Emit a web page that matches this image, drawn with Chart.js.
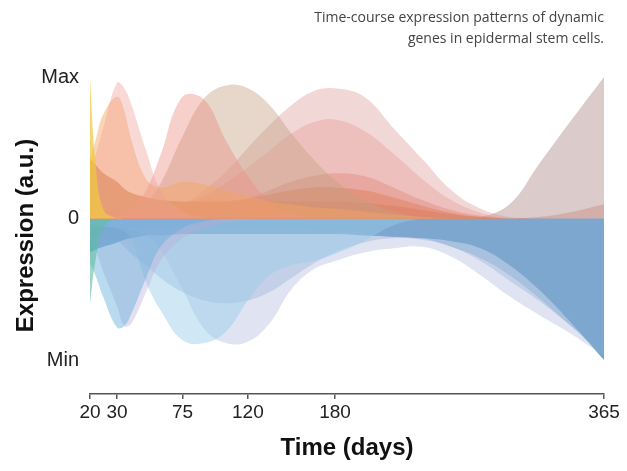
<!DOCTYPE html>
<html>
<head>
<meta charset="utf-8">
<script src="https://cdn.jsdelivr.net/npm/chart.js@4/dist/chart.umd.min.js"></script>
<style>
  html, body { margin: 0; padding: 0; background: #fff; }
  canvas { display: block; }
</style>
</head>
<body>
<canvas id="chart" width="627" height="471"></canvas>
<script>
// sampling days (x) and the axis ticks
const DAYS = [20, 22, 25, 30, 35, 40, 50, 60, 75, 90, 105, 120, 135, 150, 165, 180, 200, 220, 240, 260, 280, 300, 320, 340, 365];
const X_TICKS = [20, 30, 75, 120, 180, 365];
const Y_TICKS = [-1, 0, 1];
const Y_LABELS = ['Min', '0', 'Max'];

// up-regulated clusters (relative expression, 0..1)
const upDay20   = [0.98, 0.40, 0.06, 0, 0, 0, 0, 0, 0, 0, 0, 0, 0, 0, 0, 0, 0, 0, 0, 0, 0, 0, 0, 0, 0];
const upDay30   = [0.36, 0.45, 0.65, 0.96, 0.92, 0.80, 0.48, 0.20, 0.05, 0.01, 0, 0, 0, 0, 0, 0, 0, 0, 0, 0, 0, 0, 0, 0, 0];
const upDay30b  = [0.42, 0.55, 0.74, 0.86, 0.76, 0.55, 0.28, 0.22, 0.26, 0.24, 0.20, 0.16, 0.12, 0.10, 0.08, 0.07, 0.05, 0.03, 0.01, 0, 0, 0, 0, 0, 0];
const upDay75   = [0.03, 0.03, 0.03, 0.03, 0.04, 0.07, 0.20, 0.45, 0.86, 0.84, 0.55, 0.30, 0.12, 0.04, 0.01, 0, 0, 0, 0, 0, 0, 0, 0, 0, 0];
const upDay120  = [0.04, 0.04, 0.04, 0.05, 0.06, 0.08, 0.12, 0.25, 0.58, 0.85, 0.94, 0.92, 0.80, 0.60, 0.42, 0.27, 0.13, 0.05, 0.01, 0, 0, 0, 0, 0, 0];
const upDay180  = [0.02, 0.02, 0.02, 0.02, 0.02, 0.03, 0.04, 0.06, 0.10, 0.20, 0.33, 0.50, 0.66, 0.80, 0.90, 0.92, 0.86, 0.64, 0.42, 0.20, 0.07, 0.01, 0, 0, 0];
const upDay180b = [0.03, 0.03, 0.03, 0.03, 0.03, 0.04, 0.05, 0.06, 0.10, 0.16, 0.25, 0.36, 0.48, 0.60, 0.68, 0.70, 0.62, 0.46, 0.28, 0.13, 0.04, 0, 0, 0, 0];
const upDay180c = [0.02, 0.02, 0.02, 0.02, 0.02, 0.03, 0.04, 0.04, 0.05, 0.07, 0.10, 0.14, 0.20, 0.26, 0.30, 0.32, 0.30, 0.22, 0.13, 0.06, 0.02, 0, 0, 0, 0];
const upDay180d = [0.04, 0.04, 0.05, 0.05, 0.06, 0.06, 0.07, 0.07, 0.08, 0.10, 0.12, 0.14, 0.17, 0.20, 0.22, 0.22, 0.20, 0.15, 0.09, 0.04, 0.01, 0, 0, 0, 0];
const upEarlyLow = [0.42, 0.38, 0.32, 0.26, 0.21, 0.18, 0.15, 0.13, 0.12, 0.12, 0.12, 0.12, 0.12, 0.12, 0.12, 0.12, 0.11, 0.09, 0.06, 0.03, 0.01, 0, 0, 0, 0];
const upDay365  = [0, 0, 0, 0, 0, 0, 0, 0, 0, 0, 0, 0, 0, 0, 0, 0, 0, 0, 0, 0, 0.01, 0.10, 0.38, 0.66, 1.0];
const upDay365b = [0, 0, 0, 0, 0, 0, 0, 0, 0, 0, 0, 0, 0, 0, 0, 0, 0, 0, 0, 0, 0, 0, 0.01, 0.04, 0.10];

// down-regulated clusters (0..-1)
const downDay20  = [-0.60, -0.30, -0.06, 0, 0, 0, 0, 0, 0, 0, 0, 0, 0, 0, 0, 0, 0, 0, 0, 0, 0, 0, 0, 0, 0];
const downDay30  = [-0.32, -0.40, -0.56, -0.77, -0.76, -0.67, -0.42, -0.20, -0.07, -0.02, 0, 0, 0, 0, 0, 0, 0, 0, 0, 0, 0, 0, 0, 0, 0];
const downDay35  = [-0.15, -0.22, -0.38, -0.62, -0.76, -0.74, -0.52, -0.30, -0.14, -0.07, -0.03, -0.01, 0, 0, 0, 0, 0, 0, 0, 0, 0, 0, 0, 0, 0];
const downDay80  = [-0.05, -0.05, -0.06, -0.07, -0.09, -0.15, -0.45, -0.65, -0.86, -0.88, -0.80, -0.58, -0.40, -0.33, -0.30, -0.25, -0.16, -0.05, 0, 0, 0, 0, 0, 0, 0];
const downDay120 = [-0.05, -0.05, -0.05, -0.06, -0.07, -0.08, -0.12, -0.22, -0.50, -0.78, -0.88, -0.87, -0.74, -0.50, -0.36, -0.30, -0.24, -0.21, -0.20, -0.27, -0.40, -0.55, -0.68, -0.80, -0.97];
const downBroad  = [-0.12, -0.13, -0.14, -0.16, -0.20, -0.25, -0.33, -0.42, -0.52, -0.58, -0.60, -0.58, -0.52, -0.42, -0.32, -0.24, -0.17, -0.14, -0.15, -0.20, -0.30, -0.44, -0.58, -0.74, -0.94];
const downLate   = [-0.08, -0.08, -0.08, -0.07, -0.07, -0.07, -0.06, -0.06, -0.06, -0.06, -0.06, -0.06, -0.07, -0.07, -0.08, -0.08, -0.10, -0.12, -0.14, -0.20, -0.28, -0.40, -0.56, -0.74, -0.97];
const downSteady = [-0.24, -0.22, -0.20, -0.17, -0.15, -0.14, -0.12, -0.12, -0.11, -0.11, -0.11, -0.11, -0.11, -0.11, -0.11, -0.11, -0.12, -0.13, -0.14, -0.16, -0.21, -0.33, -0.50, -0.71, -1.0];

const SERIES = [
  ['up d20', upDay20, 'rgba(240, 200, 70, 0.75)'],
  ['up d30', upDay30, 'rgba(240, 160, 150, 0.4)'],
  ['up d30b', upDay30b, 'rgba(245, 165, 95, 0.45)'],
  ['up d75', upDay75, 'rgba(236, 140, 130, 0.42)'],
  ['up d120', upDay120, 'rgba(195, 160, 128, 0.42)'],
  ['up d180', upDay180, 'rgba(220, 150, 150, 0.38)'],
  ['up d180b', upDay180b, 'rgba(225, 130, 115, 0.3)'],
  ['up d180c', upDay180c, 'rgba(225, 115, 85, 0.38)'],
  ['up d180d', upDay180d, 'rgba(228, 128, 50, 0.6)'],
  ['up early', upEarlyLow, 'rgba(198, 104, 45, 0.7)'],
  ['up d365', upDay365, 'rgba(170, 132, 128, 0.42)'],
  ['up d365b', upDay365b, 'rgba(225, 130, 115, 0.4)'],
  ['down d20', downDay20, 'rgba(95, 190, 160, 0.6)'],
  ['down d30', downDay30, 'rgba(100, 175, 220, 0.45)'],
  ['down d35', downDay35, 'rgba(185, 170, 215, 0.38)'],
  ['down d80', downDay80, 'rgba(150, 205, 232, 0.45)'],
  ['down d120', downDay120, 'rgba(165, 178, 218, 0.35)'],
  ['down broad', downBroad, 'rgba(115, 152, 200, 0.3)'],
  ['down late', downLate, 'rgba(70, 160, 200, 0.35)'],
  ['down steady', downSteady, 'rgba(55, 130, 180, 0.7)'],
];

// the 20-30 day gap is drawn wider than the rest of the axis, as in the figure
const STRETCH = 1.86;
function warp(v) { return v < X_TICKS[1] ? X_TICKS[1] - (X_TICKS[1] - v) * STRETCH : v; }
class WarpedScale extends Chart.LinearScale {
  static id = 'warped';
  getPixelForValue(v) { return super.getPixelForValue(warp(v)); }
}
Chart.register(WarpedScale);

const datasets = SERIES.map(([label, vals, color]) => ({
  label,
  data: DAYS.map((d, i) => ({ x: d, y: vals[i] })),
  fill: 'origin',
  backgroundColor: color,
  borderColor: 'rgba(0,0,0,0)',
  borderWidth: 0,
  pointRadius: 0,
  tension: 0.4,
}));

const axisFont = { family: 'Liberation Sans', size: 24, weight: 'bold' };

new Chart(document.getElementById('chart'), {
  type: 'line',
  data: { datasets },
  options: {
    responsive: false,
    animation: false,
    layout: { padding: { left: 0, right: 23, top: 0, bottom: 0 } },
    plugins: {
      legend: { display: false },
      tooltip: { enabled: false },
      title: {
        display: true,
        text: ['Time-course expression patterns of dynamic', 'genes in epidermal stem cells.'],
        align: 'end',
        color: '#444',
        font: { family: 'Open Sans', size: 14, weight: '400', lineHeight: 1.5 },
        padding: { top: 8, bottom: 27 },
      },
    },
    scales: {
      x: {
        type: 'warped',
        min: warp(X_TICKS[0]),
        max: X_TICKS[X_TICKS.length - 1],
        afterFit: s => { s.height = 77; },
        afterBuildTicks: s => { s.ticks = X_TICKS.map(v => ({ value: v })); },
        ticks: { autoSkip: false, maxRotation: 0, padding: 2, color: '#222',
          font: { family: 'Liberation Sans', size: 19 }, callback: v => String(v) },
        grid: { drawOnChartArea: false, drawTicks: true, tickLength: 5, color: '#555', lineWidth: 1.5 },
        border: { display: true, color: '#555', width: 1.5 },
        title: { display: true, text: 'Time (days)', color: '#111', font: axisFont, padding: { top: 0, bottom: 8 } },
      },
      y: {
        min: -1.24,
        max: 1,
        afterFit: s => { s.width = 90; },
        afterBuildTicks: s => { s.ticks = Y_TICKS.map(v => ({ value: v })); },
        ticks: { padding: 11, color: '#222', font: { family: 'Liberation Sans', size: 20 },
          callback: (v, i) => Y_LABELS[i] },
        grid: { display: false, drawTicks: false },
        border: { display: false },
        title: { display: true, text: 'Expression (a.u.)', color: '#111', font: axisFont, padding: { top: 12, bottom: 0 } },
      },
    },
  },
});
</script>
</body>
</html>
